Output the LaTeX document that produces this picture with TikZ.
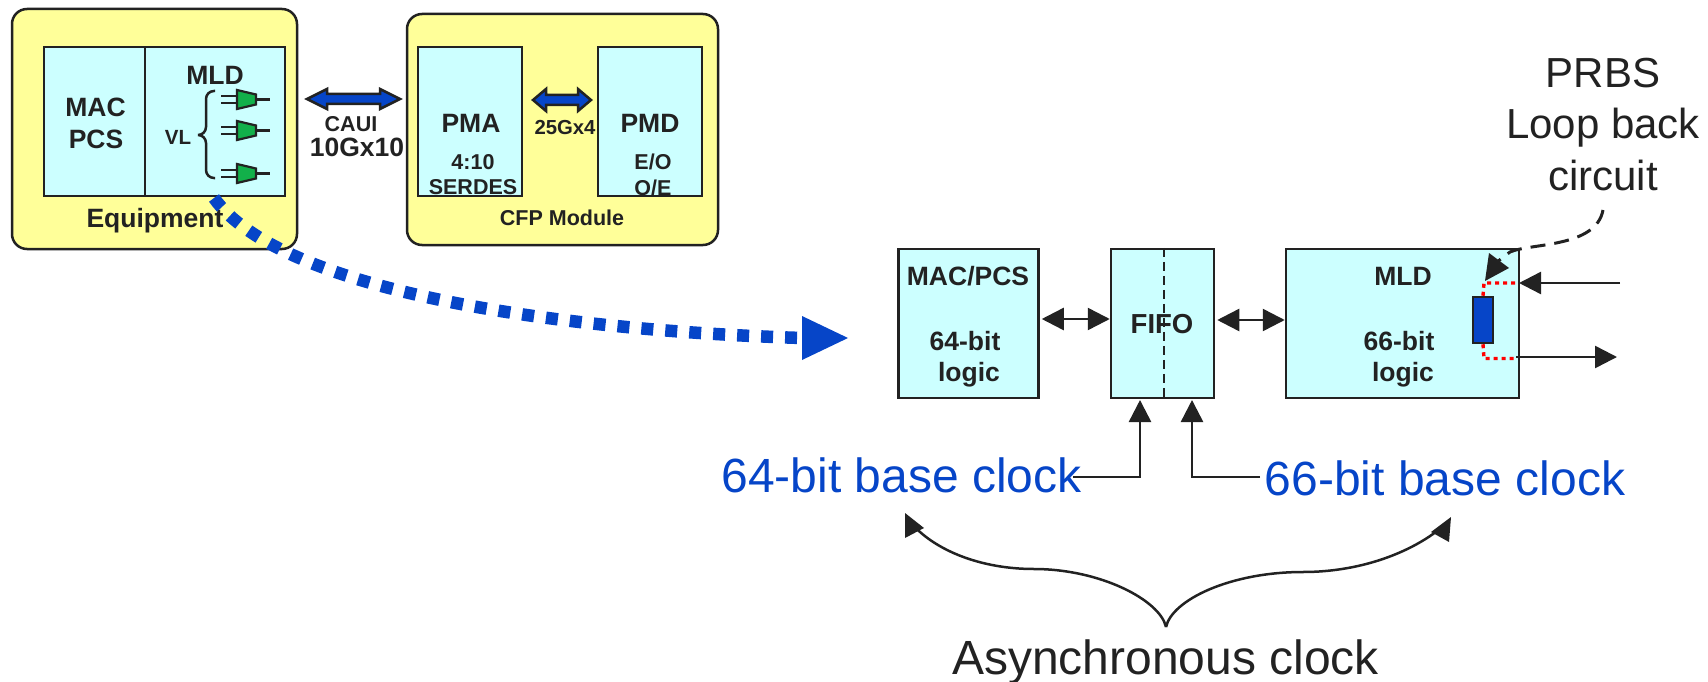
\documentclass[tikz,border=0pt]{standalone}
\usepackage{fontspec}
\setmainfont{Liberation Sans}
\usetikzlibrary{arrows.meta}
\definecolor{ink}{HTML}{222222}
\definecolor{yel}{HTML}{FFFF99}
\definecolor{cy}{HTML}{CCFFFF}
\definecolor{blu}{HTML}{0645C8}
\definecolor{grn}{HTML}{12B04A}
\tikzset{
 outer/.style={draw=ink,line width=2.5pt,fill=yel,rounded corners=15pt},
 inner/.style={draw=ink,line width=2.5pt,fill=cy},
 b/.style={font=\bfseries\fontsize{#1}{#1}\selectfont,text=ink,inner sep=0pt,anchor=center,text height=0.72*#1 pt,text depth=0pt},
 n/.style={font=\fontsize{#1}{#1}\selectfont,text=ink,inner sep=0pt,anchor=center,text height=0.72*#1 pt,text depth=0pt},
 cl/.style={font=\fontsize{48}{48}\selectfont,text=blu,inner sep=0pt,anchor=center,text height=34.5pt,text depth=0pt},
 tri/.style={-{Triangle[length=22pt,width=22pt]}},
 ln/.style={draw=ink,line width=2.5pt},
 bigdbl/.style={ln,fill=blu,line join=miter},
 gate/.style={draw=ink,line width=2.2pt,fill=grn},
}
\begin{document}
\begin{tikzpicture}[x=1pt,y=-1pt]
\useasboundingbox (0,0) rectangle (1708,682);
\node[outer,minimum width=285pt,minimum height=240pt] (eq) at (154.5,129) {};
\node[outer,minimum width=311pt,minimum height=231pt] (cfp) at (562.5,129.5) {};
\node[inner,minimum width=101pt,minimum height=149pt] (mac) at (94.5,121.5) {};
\node[inner,minimum width=140pt,minimum height=149pt] (mld) at (215,121.5) {};
\node[inner,minimum width=104pt,minimum height=149pt] (pma) at (470,121.5) {};
\node[inner,minimum width=104pt,minimum height=149pt] (pmd) at (650,121.5) {};
\node[b=26.5] (t1) at (95.5,106.5) {MAC};
\node[b=26.5] (t2) at (96,139) {PCS};
\node[b=26.5] (t3) at (215,74.5) {MLD};
\node[b=20.5] (t4) at (178,137.5) {VL};
\node[b=26.5] (t5) at (155,217.5) {Equipment};
\node[b=21.5] (t6) at (351,124) {CAUI};
\node[b=26.5] (t7) at (357,147) {10Gx10};
\node[b=26.5] (t8) at (471,122.5) {PMA};
\node[b=21.5] (t9) at (473,162) {4:10};
\node[b=21.5] (t10) at (473,187) {SERDES};
\node[b=20.3] (t11) at (565,127) {25Gx4};
\node[b=26.5] (t12) at (650,122.5) {PMD};
\node[b=21.5] (t13) at (653,162) {E/O};
\node[b=21.5] (t14) at (653,188) {O/E};
\node[b=21.5] (t15) at (562,217.5) {CFP Module};
% brace
\draw[ln,rounded corners=8pt] (215,91) -- (206,91) -- (206,135) -- (195,135) -- (206,135) -- (206,178) -- (215,178);
% gates
\foreach \y in {99.5,130.5,173.5}{
 \draw[ln] (221,\y-3.5) -- (237,\y-3.5) (221,\y+3.5) -- (237,\y+3.5) (256,\y) -- (270,\y);
 \draw[gate] (237,\y-9.5) -- (256,\y-5) -- (256,\y+5) -- (237,\y+9.5) -- cycle;
}
% big double arrows
\draw[bigdbl] (307,99) -- (327,89) -- (327,94) -- (380,94) -- (380,89) -- (400,99) -- (380,109) -- (380,104) -- (327,104) -- (327,109) -- cycle;
\draw[bigdbl] (533,100) -- (546,89) -- (546,95) -- (578,95) -- (578,89) -- (591,100) -- (578,111) -- (578,105) -- (546,105) -- (546,111) -- cycle;
% lower blocks
\node[inner,minimum width=140pt,minimum height=149pt] (a) at (968.5,323.5) {};
\node[inner,minimum width=103pt,minimum height=149pt] (f) at (1162.5,323.5) {};
\node[inner,minimum width=233pt,minimum height=149pt] (m) at (1402.5,323.5) {};
\draw[ln,dash pattern=on 9pt off 5pt] (f.north)++(1.5,0) -- ++(0,149);
\node[b=26.5] (t16) at (968,276) {MAC/PCS};
\node[b=26.5] (t17) at (965,341) {64-bit};
\node[b=26.5] (t18) at (969,372) {logic};
\node[b=27.5] (t19) at (1162,324) {FIFO};
\node[b=26.5] (t20) at (1403,276) {MLD};
\node[b=26.5] (t21) at (1399,341) {66-bit};
\node[b=26.5] (t22) at (1403,372) {logic};
\node[draw=ink,line width=2.5pt,fill=blu,minimum width=20pt,minimum height=46pt,inner sep=0pt] (r) at (1483,320) {};
\draw[red,line width=3.4pt,dash pattern=on 4pt off 4pt] (r.north) -- (1484,283) -- (1519,283);
\draw[red,line width=3.4pt,dash pattern=on 4pt off 4pt] (r.south) -- (1484,358.5) -- (1516,358.5);
\coordinate (ia) at (1620,283);
\coordinate (ib) at (1519,283);
\coordinate (oa) at (1516,357);
\coordinate (ob) at (1617,357);
\draw[ln,tri] (ia) -- (ib);
\draw[ln,tri] (oa) -- (ob);
\draw[ln,{Triangle[length=22pt,width=22pt]}-{Triangle[length=22pt,width=22pt]}] (a.east|-0,319) ++(2,0) -- (f.west|-0,319);
\draw[ln,{Triangle[length=22pt,width=22pt]}-{Triangle[length=22pt,width=22pt]}] (f.east|-0,320) ++(2,0) -- (m.west|-0,320);
% clock labels
\node[cl] (c64) at (901.5,475) {64-bit base clock};
\node[cl] (c66) at (1445,478) {66-bit base clock};
\draw[ln,tri] (1073,477) -- (1140,477) -- (1140,400);
\draw[ln,tri] (1260,477) -- (1192,477) -- (1192,400);
\node[n=48] (as) at (1165.5,657) {Asynchronous clock};
\node[n=42] (p1) at (1603,72) {PRBS};
\node[n=42] (p2) at (1603,123) {Loop back};
\node[n=42] (p3) at (1603,175) {circuit};
\draw[ln,line width=3pt,dash pattern=on 15pt off 9pt] (1603,210) .. controls (1596,248) and (1530,243) .. (1510,252) -- (1497,262);
\fill[ink] (1485,281) -- (1489,253) -- (1509,268) -- cycle;
% async brace
\draw[ln] (1166,627) .. controls (1160,600) and (1100,569) .. (1034,569) .. controls (980,569) and (935,550) .. (912,524);
\draw[ln] (1166,627) .. controls (1172,600) and (1230,572) .. (1303,572) .. controls (1360,572) and (1410,553) .. (1441,528);
\fill[ink] (905,513) -- (924,528) -- (905,538) -- cycle;
\fill[ink] (1451,517) -- (1449,542) -- (1431,532) -- cycle;
% big blue dashed
\draw[blu,line width=12.5pt,dash pattern=on 12pt off 12pt] (214,198) .. controls (280,290) and (550,330) .. (802,338);
\fill[blu] (848,338) -- (802,316) -- (802,360) -- cycle;
\end{tikzpicture}
\end{document}
